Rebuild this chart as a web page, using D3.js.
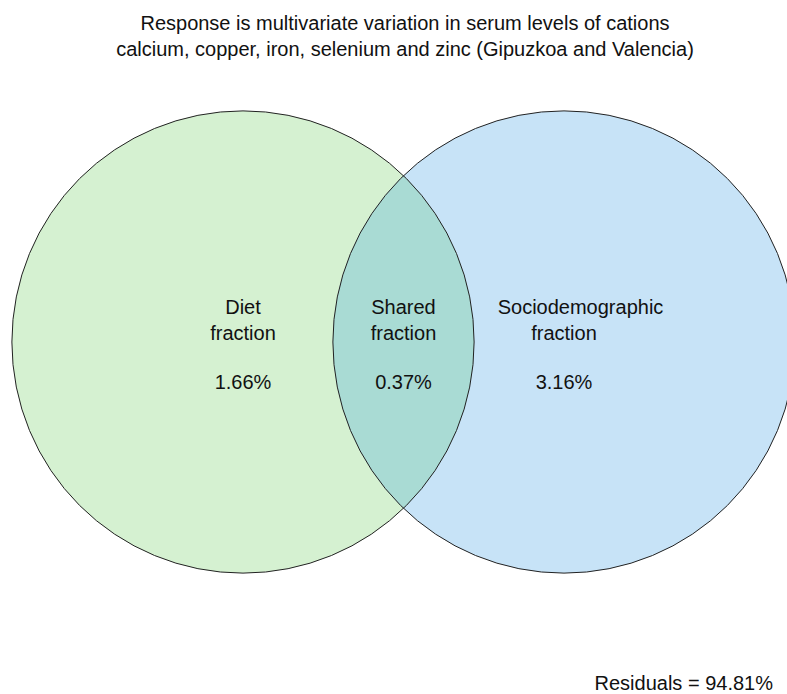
<!DOCTYPE html>
<html><head><meta charset="utf-8">
<script src="https://cdn.jsdelivr.net/npm/d3@7"></script>
<style>body{margin:0;background:#fff}svg{display:block}text{font-family:"Liberation Sans",Arial,sans-serif;fill:#111}</style>
</head><body>
<script>
const titleLines = ["Response is multivariate variation in serum levels of cations",
  "calcium, copper, iron, selenium and zinc (Gipuzkoa and Valencia)"];
const setNames = ["Diet", "Sociodemographic"];
const setCenters = [0, 1];          // abstract units
const setRadius = 0.72;             // abstract units
const regionLabels = [["Diet", "fraction"], ["Shared", "fraction"], ["Sociodemographic", "fraction"]];
const regionValues = ["1.66%", "0.37%", "3.16%"];
const regionPos = [0, 0.5, 1.0];
const residualLabel = "Residuals = 94.81%";

const W = 787, H = 694;
const FS = 20;
const svg = d3.select("body").append("svg").attr("width", W).attr("height", H);
const x = d3.scaleLinear().domain([0, 1]).range([243, 564]);
const y = d3.scaleLinear().domain([0, 1]).range([342, 22]);
const rpx = x(setRadius) - x(0);
const colors = ["#d5f1d1", "#c7e3f7"];
const overlapColor = "#a9dbd4";

const defs = svg.append("defs");
defs.append("clipPath").attr("id", "clipA").append("circle")
  .attr("cx", x(setCenters[0])).attr("cy", y(0)).attr("r", rpx);

svg.selectAll("circle.set").data(setNames).join("circle").attr("class", "set")
  .attr("cx", (d, i) => x(setCenters[i])).attr("cy", y(0)).attr("r", rpx)
  .attr("fill", (d, i) => colors[i]).attr("stroke", "none");
svg.append("circle").attr("clip-path", "url(#clipA)")
  .attr("cx", x(setCenters[1])).attr("cy", y(0)).attr("r", rpx)
  .attr("fill", overlapColor);
svg.selectAll("circle.outline").data(setNames).join("circle").attr("class", "outline")
  .attr("cx", (d, i) => x(setCenters[i])).attr("cy", y(0)).attr("r", rpx)
  .attr("fill", "none").attr("stroke", "#222").attr("stroke-width", 1);

svg.selectAll("text.title").data(titleLines).join("text").attr("class", "title")
  .attr("x", 405).attr("y", (d, i) => 30 + i * 26).attr("text-anchor", "middle")
  .attr("font-size", FS).text(d => d);

const xOff = [0, 0, 16.5];
regionLabels.forEach((lines, i) => {
  lines.forEach((t, j) => {
    svg.append("text").attr("x", x(regionPos[i]) + (j === 0 ? xOff[i] : 0)).attr("y", 314 + j * 26)
      .attr("text-anchor", "middle").attr("font-size", FS).text(t);
  });
  svg.append("text").attr("x", x(regionPos[i])).attr("y", 389)
    .attr("text-anchor", "middle").attr("font-size", FS).text(regionValues[i]);
});

svg.append("text").attr("x", 773).attr("y", 690).attr("text-anchor", "end")
  .attr("font-size", FS).text(residualLabel);
</script>
</body></html>
